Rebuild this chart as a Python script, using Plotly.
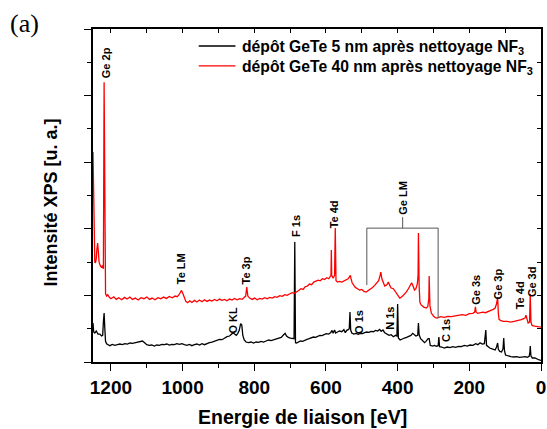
import plotly.graph_objs as go

# spectre 1 : depot GeTe 5 nm (noir)
energie_5nm = [
    1250, 1248, 1245, 1241, 1236, 1231, 1226, 1223, 1221, 1219, 1217, 1215, 1212, 1208, 1203,
    1196, 1189, 1182, 1175, 1168, 1161, 1154, 1147, 1140, 1133, 1126, 1119, 1112, 1106, 1100,
    1093, 1086, 1079, 1072, 1065, 1058, 1051, 1044, 1037, 1030, 1023, 1016, 1009, 1002, 995,
    988, 981, 974, 967, 960, 953, 946, 939, 932, 925, 918, 911, 904, 897, 890,
    883, 876, 869, 863, 859, 855, 850, 846, 842, 838, 835, 832, 828, 823, 816,
    809, 802, 795, 788, 781, 774, 767, 760, 753, 746, 739, 732, 725, 718, 714,
    710, 705, 699, 693, 689, 687, 685, 682, 677, 671, 665, 659, 653, 647, 641,
    635, 629, 623, 617, 611, 605, 599, 593, 587, 583, 580, 576, 573, 568, 562,
    556, 550, 546, 542, 538, 535, 533, 531, 528, 522, 516, 510, 504, 498, 492,
    486, 480, 474, 468, 462, 456, 450, 446, 441, 436, 430, 424, 418, 412, 406,
    402, 400, 398, 393, 387, 381, 375, 369, 363, 358, 354, 349, 344, 342, 340,
    336, 332, 328, 325, 321, 315, 312, 309, 303, 297, 292, 287, 285, 283, 277,
    270, 262, 254, 246, 238, 230, 222, 214, 206, 198, 190, 182, 176, 170, 164,
    158, 156, 154, 152, 148, 143, 138, 133, 128, 124, 121, 119, 115, 110, 106,
    104, 102, 99, 92, 84, 76, 68, 60, 52, 44, 38, 33, 31, 30, 28,
    24, 17, 10, 5, 0,
]
intensite_5nm = [
    1.17, 0.90, 0.87, 0.93, 0.84, 0.84, 0.78, 0.80, 1.20, 1.47, 1.00, 0.62, 0.55, 0.51, 0.49,
    0.53, 0.50, 0.52, 0.54, 0.52, 0.55, 0.54, 0.57, 0.56, 0.58, 0.58, 0.61, 0.63, 0.58, 0.52,
    0.50, 0.51, 0.48, 0.51, 0.50, 0.53, 0.52, 0.54, 0.51, 0.53, 0.52, 0.55, 0.53, 0.55, 0.52,
    0.50, 0.53, 0.49, 0.52, 0.54, 0.51, 0.55, 0.52, 0.56, 0.58, 0.60, 0.63, 0.64, 0.68, 0.67,
    0.72, 0.76, 0.78, 0.84, 0.88, 0.84, 0.80, 0.86, 0.95, 1.15, 1.12, 0.80, 0.66, 0.60, 0.58,
    0.60, 0.57, 0.60, 0.59, 0.62, 0.60, 0.63, 0.66, 0.64, 0.66, 0.68, 0.70, 0.74, 0.82, 0.86,
    0.78, 0.74, 0.72, 0.70, 0.70, 3.60, 0.58, 0.57, 0.60, 0.63, 0.62, 0.66, 0.68, 0.70, 0.73,
    0.75, 0.74, 0.78, 0.80, 0.79, 0.83, 0.85, 0.84, 0.88, 0.95, 0.86, 0.96, 0.87, 0.90, 0.93,
    0.91, 0.97, 0.88, 0.95, 0.97, 1.00, 1.50, 0.96, 0.87, 0.84, 0.86, 0.83, 0.86, 0.85, 0.88,
    0.90, 0.89, 0.92, 0.91, 0.95, 0.93, 0.98, 0.92, 0.96, 0.88, 0.84, 0.80, 0.82, 0.76, 0.80,
    0.78, 1.74, 0.72, 0.66, 0.70, 0.72, 0.74, 0.76, 0.80, 0.86, 0.82, 0.78, 0.80, 1.17, 0.82,
    0.70, 0.66, 0.60, 0.58, 0.62, 0.70, 0.70, 0.50, 0.48, 0.50, 0.47, 0.49, 0.75, 0.46, 0.45,
    0.42, 0.45, 0.43, 0.46, 0.44, 0.47, 0.46, 0.50, 0.48, 0.51, 0.50, 0.55, 0.52, 0.58, 0.54,
    0.55, 0.75, 0.96, 0.50, 0.45, 0.42, 0.40, 0.37, 0.36, 0.45, 0.57, 0.38, 0.32, 0.30, 0.40,
    0.72, 0.35, 0.21, 0.18, 0.16, 0.15, 0.16, 0.14, 0.15, 0.16, 0.14, 0.17, 0.30, 0.48, 0.18,
    0.12, 0.12, 0.08, 0.06, 0.05,
]

# spectre 2 : depot GeTe 40 nm (rouge)
energie_40nm = [
    1250, 1249, 1248, 1247, 1245, 1243, 1241, 1239, 1237, 1235, 1233, 1230, 1227, 1224, 1221,
    1219, 1217, 1215, 1212, 1209, 1205, 1200, 1192, 1185, 1178, 1170, 1162, 1155, 1147, 1140,
    1132, 1124, 1116, 1108, 1100, 1092, 1085, 1077, 1069, 1061, 1053, 1045, 1037, 1029, 1021,
    1015, 1010, 1006, 1003, 999, 995, 991, 986, 980, 974, 967, 960, 953, 946, 939,
    932, 925, 918, 911, 904, 897, 890, 883, 876, 869, 862, 855, 848, 841, 834,
    828, 824, 821, 818, 813, 806, 799, 792, 785, 778, 771, 764, 757, 750, 743,
    736, 729, 722, 715, 708, 701, 694, 688, 682, 676, 670, 664, 658, 652, 646,
    640, 634, 628, 622, 616, 610, 604, 598, 592, 588, 586, 585, 584, 580, 576,
    574, 572, 568, 562, 556, 550, 544, 538, 534, 532, 530, 527, 522, 518, 512,
    506, 500, 494, 488, 482, 476, 470, 464, 458, 453, 449, 447, 444, 440, 436,
    430, 426, 422, 418, 412, 406, 400, 394, 388, 382, 376, 370, 365, 361, 357,
    353, 349, 345, 343, 342, 340, 338, 335, 331, 327, 320, 316, 313, 312, 310,
    306, 300, 295, 290, 280, 270, 260, 250, 240, 230, 220, 210, 200, 190, 185,
    183, 181, 177, 170, 162, 155, 148, 140, 133, 128, 124, 121, 119, 117, 112,
    105, 95, 85, 75, 65, 55, 48, 44, 42, 40, 36, 32, 30, 28, 25,
    18, 10, 5, 0,
]
intensite_40nm = [
    6.31, 5.20, 4.00, 3.20, 3.00, 2.98, 3.10, 3.40, 3.57, 3.30, 3.00, 2.90, 2.85, 2.88, 2.80,
    8.40, 2.40, 2.05, 1.98, 2.02, 1.95, 1.90, 1.96, 1.88, 1.93, 1.87, 1.94, 1.89, 1.95, 1.88,
    1.92, 1.86, 1.93, 1.90, 1.95, 1.88, 1.92, 1.87, 1.93, 1.90, 1.95, 1.91, 1.97, 1.93, 1.98,
    1.96, 2.02, 2.10, 2.15, 2.05, 1.90, 1.82, 1.78, 1.84, 1.79, 1.85, 1.80, 1.86, 1.81, 1.87,
    1.82, 1.86, 1.83, 1.88, 1.84, 1.89, 1.85, 1.88, 1.84, 1.89, 1.86, 1.91, 1.87, 1.90, 1.88,
    1.93, 1.98, 2.25, 1.98, 1.92, 1.88, 1.92, 1.87, 1.91, 1.89, 1.93, 1.90, 1.94, 1.92, 1.96,
    1.94, 1.99, 1.97, 2.02, 2.00, 2.05, 2.08, 2.06, 2.12, 2.15, 2.20, 2.18, 2.26, 2.28, 2.34,
    2.32, 2.40, 2.43, 2.46, 2.44, 2.50, 2.48, 2.53, 2.50, 2.56, 2.60, 3.36, 2.60, 2.52, 2.60,
    4.02, 2.45, 2.40, 2.42, 2.40, 2.44, 2.46, 2.50, 2.56, 2.60, 2.50, 2.38, 2.30, 2.24, 2.20,
    2.16, 2.18, 2.12, 2.10, 2.14, 2.18, 2.24, 2.30, 2.38, 2.44, 2.60, 2.70, 2.50, 2.38, 2.28,
    2.32, 2.40, 2.30, 2.22, 2.20, 2.10, 1.98, 1.92, 1.96, 2.02, 2.10, 2.20, 2.30, 2.38, 2.28,
    2.16, 2.20, 2.35, 2.60, 3.87, 2.30, 1.80, 1.72, 1.68, 1.65, 1.62, 1.66, 1.90, 2.58, 1.70,
    1.47, 1.38, 1.33, 1.32, 1.36, 1.34, 1.37, 1.36, 1.38, 1.40, 1.42, 1.40, 1.45, 1.46, 1.50,
    1.66, 1.50, 1.46, 1.47, 1.50, 1.48, 1.52, 1.55, 1.58, 1.62, 1.75, 1.95, 1.45, 1.28, 1.24,
    1.22, 1.22, 1.20, 1.22, 1.24, 1.27, 1.30, 1.33, 1.41, 1.30, 1.17, 1.20, 2.04, 1.20, 1.10,
    1.08, 1.06, 1.05, 1.05,
]

legende = ['dépôt GeTe 5 nm après nettoyage NF<sub>3</sub>',
           'dépôt GeTe 40 nm après nettoyage NF<sub>3</sub>']
couleurs = ['black', '#ff0000']

# etiquettes des pics : texte, energie, hauteur
pic_labels = ['Ge 2p', 'Te LM', 'Te 3p', 'O KL', 'F 1s', 'Te 4d', 'Ge LM', 'O 1s',
              'N 1s', 'C 1s', 'Ge 3s', 'Ge 3p', 'Te 4d', 'Ge 3d']
pic_energie = [1214, 1004, 822, 858, 684, 577, 386, 508, 422, 265, 182, 119, 58, 25]
pic_hauteur = [9.0, 2.79, 2.76, 1.26, 4.08, 4.44, 4.92, 1.20, 1.32, 0.93, 2.16, 2.34, 2.01, 2.40]

# crochet Ge LM
crochet_energie = [486, 287, 386]
crochet_hauteur = [4.02, 2.31, 1.32, 4.35]

font = 'Arial, Liberation Sans, sans-serif'

data = [
    go.Scatter(x=energie_5nm, y=intensite_5nm, mode='lines',
               line=dict(color=couleurs[0], width=1.3), name=legende[0]),
    go.Scatter(x=energie_40nm, y=intensite_40nm, mode='lines',
               line=dict(color=couleurs[1], width=1.3), name=legende[1]),
    # trace vide pour les axes miroirs (haut / droite)
    go.Scatter(x=[], y=[], xaxis='x2', yaxis='y2', showlegend=False),
]

annotations = []
for txt, e, h in zip(pic_labels, pic_energie, pic_hauteur):
    annotations.append(dict(x=e, y=h, text=txt, textangle=-90, showarrow=False,
                            font=dict(family=font, size=11, color='black', weight='bold')))
annotations.append(dict(x=-0.19, y=1.018, xref='paper', yref='paper', text='(a)',
                        showarrow=False, xanchor='left', yanchor='middle',
                        font=dict(family='Times New Roman, Liberation Serif, serif', size=26, color='black')))

# titres des axes (places comme sur l'original)
annotations.append(dict(x=0.468, y=-0.165, xref='paper', yref='paper',
                        text='Energie de liaison [eV]', showarrow=False,
                        xanchor='center', yanchor='middle',
                        font=dict(family=font, size=19.5, color='black', weight='bold')))
annotations.append(dict(x=-0.093, y=0.48, xref='paper', yref='paper',
                        text='Intensité XPS [u. a.]', showarrow=False, textangle=-90,
                        xanchor='center', yanchor='middle',
                        font=dict(family=font, size=18, color='black', weight='bold')))

e1, e2, em = crochet_energie
h_top, h_left, h_right, h_tick = crochet_hauteur
gris = dict(color='#555555', width=1)
shapes = [
    dict(type='line', x0=e1, x1=e2, y0=h_top, y1=h_top, line=gris),
    dict(type='line', x0=e1, x1=e1, y0=h_top, y1=h_left, line=gris),
    dict(type='line', x0=e2, x1=e2, y0=h_top, y1=h_right, line=gris),
    dict(type='line', x0=em, x1=em, y0=h_top, y1=h_tick, line=gris),
]

# legende dessinee a la main (trait + texte)
for i, (txt, coul) in enumerate(zip(legende, couleurs)):
    yl = 0.949 - i * 0.06
    shapes.append(dict(type='line', xref='paper', yref='paper', x0=0.236, x1=0.318,
                       y0=yl, y1=yl, line=dict(color=coul, width=1.3)))
    annotations.append(dict(x=0.329, y=yl - 0.005, xref='paper', yref='paper', text=txt,
                            showarrow=False, xanchor='left', yanchor='middle',
                            font=dict(family=font, size=15.7, color='black', weight='bold')))

layout = go.Layout(
    width=547, height=429,
    margin=dict(l=93, r=1, t=29, b=67),
    plot_bgcolor='white', paper_bgcolor='white',
    font=dict(family=font, color='black'),
    showlegend=False,
    xaxis=dict(
        range=[1250, 0], showgrid=False, zeroline=False,
        showline=True, linecolor='black', linewidth=1.5, mirror=True,
        tickvals=[1200, 1000, 800, 600, 400, 200, 0],
        ticks='outside', ticklen=7, tickwidth=1.3, tickcolor='black',
        minor=dict(tickvals=[1100, 900, 700, 500, 300, 100], ticks='outside',
                   ticklen=4, tickcolor='black', tickwidth=1.3),
        tickfont=dict(size=19, weight='bold'), ticklabeloverflow='allow',
    ),
    yaxis=dict(
        range=[0, 10], showgrid=False, zeroline=False,
        showline=True, linecolor='black', linewidth=1.5, mirror=True,
        dtick=2, ticks='outside', ticklen=7, tickwidth=1.3, tickcolor='black',
        minor=dict(dtick=1, ticks='outside', ticklen=4, tickcolor='black', tickwidth=1.3),
        showticklabels=False,
    ),
    xaxis2=dict(range=[1250, 0], overlaying='x', side='top', showgrid=False, zeroline=False,
                showline=False, dtick=100, tick0=0, ticks='inside', ticklen=4,
                tickcolor='black', showticklabels=False),
    yaxis2=dict(range=[0, 10], overlaying='y', side='right', showgrid=False, zeroline=False,
                showline=False, dtick=1, ticks='inside', ticklen=4,
                tickcolor='black', showticklabels=False),
    annotations=annotations,
    shapes=shapes,
)

fig = go.Figure(data=data, layout=layout)
# pas de marge de page autour du graphique
fig.write_html("out.html", config={'displayModeBar': False},
               post_script="document.body.style.margin='0';")
